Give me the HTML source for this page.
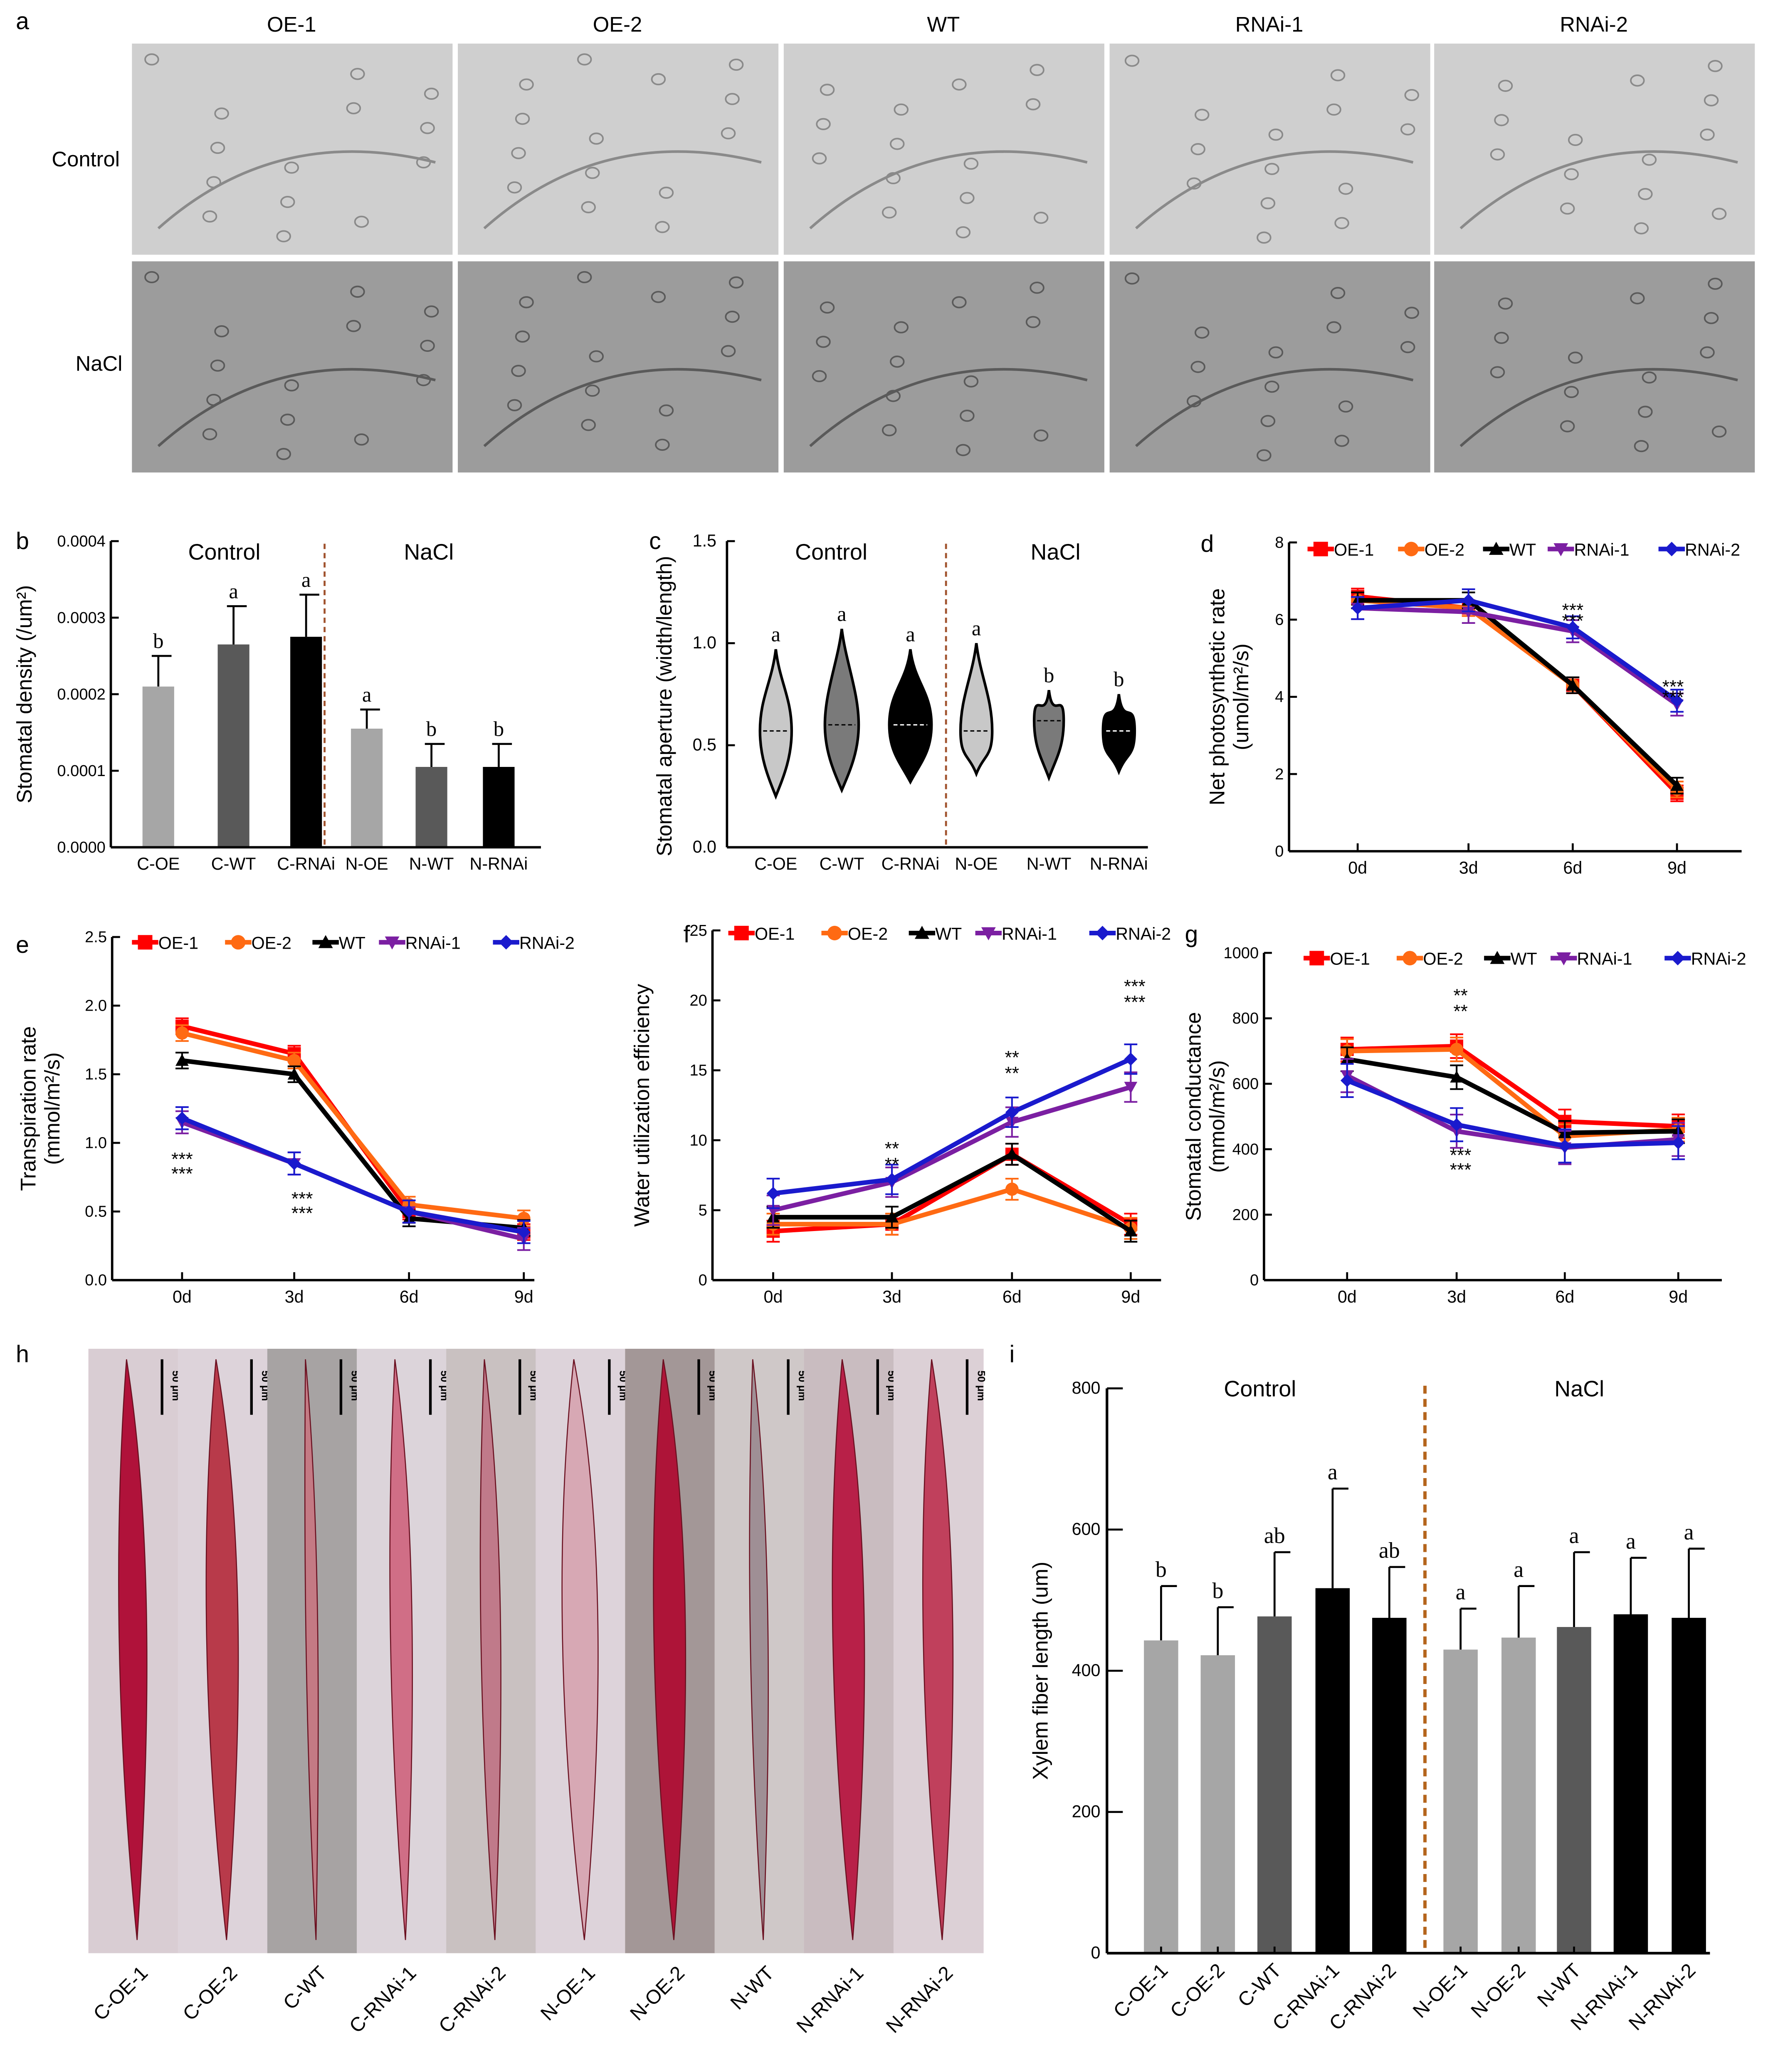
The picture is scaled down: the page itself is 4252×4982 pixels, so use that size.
<!DOCTYPE html>
<html><head><meta charset="utf-8"><title>Stomata and xylem figure</title>
<style>html,body{margin:0;padding:0;background:#fff}svg{display:block;font-family:"Liberation Sans",sans-serif}</style>
</head><body>
<svg id="fig" xmlns="http://www.w3.org/2000/svg" width="4252" height="4982" viewBox="0 0 1340 1570"></svg>
<script>
// ---------- data ----------
const bCats=["C-OE","C-WT","C-RNAi","N-OE","N-WT","N-RNAi"];
const bVals=[0.00021,0.000265,0.000275,0.000155,0.000105,0.000105];
const bErr=[0.00004,0.00005,0.000055,0.000025,0.00003,0.00003];
const bLetters=["b","a","a","a","b","b"];
const bTicks=[0,0.0001,0.0002,0.0003,0.0004];
const bTickLabels=["0.0000","0.0001","0.0002","0.0003","0.0004"];

const cCats=["C-OE","C-WT","C-RNAi","N-OE","N-WT","N-RNAi"];
const cMin=[0.25,0.28,0.32,0.36,0.34,0.37];
const cMax=[0.97,1.07,0.97,1.0,0.77,0.75];
const cMed=[0.57,0.6,0.6,0.57,0.62,0.57];
const cWid=[0.75,0.8,1.0,0.75,0.7,0.75];
const cLetters=["a","a","a","a","b","b"];
const cTicks=[0,0.5,1.0,1.5];

const days=["0d","3d","6d","9d"];
const seriesNames=["OE-1","OE-2","WT","RNAi-1","RNAi-2"];
const dOE1=[6.6,6.3,4.3,1.5],dOE2=[6.5,6.3,4.3,1.6],dWT=[6.5,6.5,4.3,1.7],dR1=[6.3,6.2,5.7,3.8],dR2=[6.3,6.5,5.8,3.9];
const eOE1=[1.85,1.65,0.5,0.35],eOE2=[1.8,1.6,0.55,0.45],eWT=[1.6,1.5,0.45,0.38],eR1=[1.15,0.85,0.5,0.3],eR2=[1.18,0.85,0.5,0.35];
const fOE1=[3.5,4,9,4],fOE2=[4,4,6.5,3.7],fWT=[4.5,4.5,9,3.5],fR1=[5,7,11.3,13.8],fR2=[6.2,7.2,12,15.8];
const gOE1=[705,715,485,470],gOE2=[700,705,440,460],gWT=[675,620,450,455],gR1=[625,455,405,430],gR2=[610,475,410,420];

const iCats=["C-OE-1","C-OE-2","C-WT","C-RNAi-1","C-RNAi-2","N-OE-1","N-OE-2","N-WT","N-RNAi-1","N-RNAi-2"];
const iVals=[443,422,477,517,475,430,447,462,480,475];
const iErr=[77,68,91,141,72,58,73,106,80,98];
const iLetters=["b","b","ab","a","ab","a","a","a","a","a"];
const iTicks=[0,200,400,600,800];

// ---------- helpers ----------
const NS="http://www.w3.org/2000/svg";
const svg=document.getElementById('fig');
function mk(tag,at,parent){const e=document.createElementNS(NS,tag);for(const k in at)e.setAttribute(k,at[k]);(parent||svg).appendChild(e);return e;}
function tx(x,y,s,size,anchor,parent,extra){const e=mk('text',Object.assign({x:x,y:y,'font-size':size,'text-anchor':anchor||'middle',fill:'#000'},extra||{}),parent);e.textContent=s;return e;}
function grp(){return mk('g',{});}
const GL='#a6a6a6',GD='#595959',GB='#000';

// ---------- panel a ----------
{
const g=grp();


const t=tx(12,22,'a',18,'start',g);


const cols=["OE-1","OE-2","WT","RNAi-1","RNAi-2"];
const xs=[100,347,594,841,1087];
cols.forEach((c,i)=>{
 const h=tx(xs[i]+121,24,c,16,'middle',g);
 
 
 [[33,'#cfcfcf','#8a8a8a'],[198,'#9c9c9c','#5a5a5a']].forEach((r,ri)=>{
  const im=mk('rect',{x:xs[i],y:r[0],width:243,height:160,fill:r[1]},g);
  
  
  for(let k=0;k<14;k++){
   const ex=xs[i]+15+((k*53+i*37)%215), ey=r[0]+12+((k*41+i*19)%138);
   mk('ellipse',{cx:ex,cy:ey,rx:5,ry:4,fill:'none',stroke:r[2],'stroke-width':1.2},g);
  }
  mk('path',{d:`M${xs[i]+20} ${r[0]+140} Q${xs[i]+110} ${r[0]+60} ${xs[i]+230} ${r[0]+90}`,fill:'none',stroke:r[2],'stroke-width':2},g);
 });
});
const rl1=tx(65,126,'Control',16,'middle',g);


const rl2=tx(75,281,'NaCl',16,'middle',g);


}

// ---------- panel b ----------
{
const g=grp();


const x0=84,x1=410,y0=642,y1=410,maxV=0.0004;
const ys=v=>y0-v/maxV*(y0-y1);
const cx=[120,177,232,278,327,378];
const cols=[GL,GD,GB,GL,GD,GB];
const l=tx(12,416,'b',18,'start',g);


bVals.forEach((v,i)=>{
 const top=ys(v+bErr[i]);
 mk('line',{x1:cx[i],y1:ys(v),x2:cx[i],y2:top,stroke:'#000','stroke-width':1.5},g);
 mk('line',{x1:cx[i]-5,y1:top,x2:cx[i]+10,y2:top,stroke:'#000','stroke-width':1.5},g);
 const b=mk('rect',{x:cx[i]-12,y:ys(v),width:24,height:y0-ys(v),fill:cols[i]},g);
 
 
 tx(cx[i],top-6,bLetters[i],16,'middle',g,{'font-family':'Liberation Serif'});
 const xl=tx(cx[i],659,bCats[i],13,'middle',g);
 
 
});
mk('line',{x1:x0,y1:y1,x2:x0,y2:y0,stroke:'#000','stroke-width':1.8},g);
mk('line',{x1:x0,y1:y0,x2:x1,y2:y0,stroke:'#000','stroke-width':1.8},g);
bTicks.forEach((t,i)=>{mk('line',{x1:x0,y1:ys(t),x2:x0+6,y2:ys(t),stroke:'#000','stroke-width':1.5},g);tx(x0-4,ys(t)+4,bTickLabels[i],12,'end',g);});
const yt=tx(0,0,'Stomatal density (/um²)',16,'middle',g,{transform:`translate(24,526) rotate(-90)`});


mk('line',{x1:246,y1:412,x2:246,y2:642,stroke:'#a0522d','stroke-width':1.5,'stroke-dasharray':'4,3'},g);
tx(170,424,'Control',17,'middle',g);tx(325,424,'NaCl',17,'middle',g);
}

// ---------- panel c ----------
{
const g=grp();


const x0=551,x1=870,y0=642,y1=410,maxV=1.5;
const ys=v=>y0-v/maxV*(y0-y1);
const cx=[588,638,690,740,795,848];
const cols=['#c8c8c8','#7a7a7a','#000','#c8c8c8','#7a7a7a','#000'];
const l=tx(492,416,'c',18,'start',g);


cCats.forEach((c,i)=>{
 const lo=ys(cMin[i]),hi=ys(cMax[i]),md=ys(cMed[i]),w=16*cWid[i];
 const d=`M${cx[i]} ${lo} C${cx[i]+w*0.5} ${lo-15} ${cx[i]+w} ${md+20} ${cx[i]+w} ${md} C${cx[i]+w} ${md-25} ${cx[i]+3} ${hi+25} ${cx[i]} ${hi} C${cx[i]-3} ${hi+25} ${cx[i]-w} ${md-25} ${cx[i]-w} ${md} C${cx[i]-w} ${md+20} ${cx[i]-w*0.5} ${lo-15} ${cx[i]} ${lo}Z`;
 const v=mk('path',{d:d,fill:cols[i],stroke:'#000','stroke-width':2},g);
 
 
 mk('line',{x1:cx[i]-w*0.8,y1:md,x2:cx[i]+w*0.8,y2:md,stroke:i%3==2?'#fff':'#000','stroke-dasharray':'3,2'},g);
 tx(cx[i],hi-6,cLetters[i],16,'middle',g,{'font-family':'Liberation Serif'});
 const xl=tx(cx[i],659,c,13,'middle',g);
 
 
});
mk('line',{x1:x0,y1:y1,x2:x0,y2:y0,stroke:'#000','stroke-width':1.8},g);
mk('line',{x1:x0,y1:y0,x2:x1,y2:y0,stroke:'#000','stroke-width':1.8},g);
cTicks.forEach(t=>{mk('line',{x1:x0,y1:ys(t),x2:x0+6,y2:ys(t),stroke:'#000','stroke-width':1.5},g);tx(x0-8,ys(t)+4,t.toFixed(1),13,'end',g);});
const yt=tx(0,0,'Stomatal aperture (width/length)',16,'middle',g,{transform:`translate(509,535) rotate(-90)`});


mk('line',{x1:717,y1:412,x2:717,y2:642,stroke:'#a0522d','stroke-width':1.5,'stroke-dasharray':'4,3'},g);
tx(630,424,'Control',17,'middle',g);tx(800,424,'NaCl',17,'middle',g);
}

// ---------- line charts ----------
const sColors=['#ff0000','#ff6a13','#000000','#7b1fa2','#1a1acd'];
const sMarkers=['sq','ci','tri','itri','dia'];
function marker(type,x,y,c,g,s){
 s=s||5;
 if(type=='sq')return mk('rect',{x:x-s,y:y-s,width:2*s,height:2*s,fill:c},g);
 if(type=='ci')return mk('circle',{cx:x,cy:y,r:s,fill:c},g);
 if(type=='tri')return mk('path',{d:`M${x} ${y-s} L${x+s} ${y+s*0.8} L${x-s} ${y+s*0.8}Z`,fill:c},g);
 if(type=='itri')return mk('path',{d:`M${x} ${y+s} L${x+s} ${y-s*0.8} L${x-s} ${y-s*0.8}Z`,fill:c},g);
 return mk('path',{d:`M${x} ${y-s} L${x+s} ${y} L${x} ${y+s} L${x-s} ${y}Z`,fill:c},g);
}
function lineChart(cfg,series,name){
 const g=grp();
 
 
 const ys=v=>cfg.y0-v/cfg.max*(cfg.y0-cfg.y1);
 const l=tx(cfg.lx,cfg.ly,cfg.label,18,'start',g);
 
 
 mk('line',{x1:cfg.x0,y1:cfg.y1,x2:cfg.x0,y2:cfg.y0,stroke:'#000','stroke-width':1.8},g);
 mk('line',{x1:cfg.x0,y1:cfg.y0,x2:cfg.x1,y2:cfg.y0,stroke:'#000','stroke-width':1.8},g);
 cfg.ticks.forEach(t=>{mk('line',{x1:cfg.x0,y1:ys(t),x2:cfg.x0+6,y2:ys(t),stroke:'#000','stroke-width':1.5},g);tx(cfg.x0-4,ys(t)+4,cfg.fmt(t),12,'end',g);});
 days.forEach((d,i)=>{mk('line',{x1:cfg.xs[i],y1:cfg.y0,x2:cfg.xs[i],y2:cfg.y0-6,stroke:'#000','stroke-width':1.5},g);const xl=tx(cfg.xs[i],cfg.y0+17,d,13,'middle',g);});
 cfg.ytitle.forEach((t,k)=>{const yt=tx(0,0,t,16,'middle',g,{transform:`translate(${cfg.ytx+k*18},${(cfg.y0+cfg.y1)/2}) rotate(-90)`});});
 series.forEach((vals,s)=>{
  const pts=vals.map((v,i)=>cfg.xs[i]+','+ys(v)).join(' ');
  const pl=mk('polyline',{points:pts,fill:'none',stroke:sColors[s],'stroke-width':3.5},g);
  
  
  vals.forEach((v,i)=>{
   const e=cfg.err*(s>2?1.4:1);
   mk('line',{x1:cfg.xs[i],y1:ys(v)-e,x2:cfg.xs[i],y2:ys(v)+e,stroke:sColors[s],'stroke-width':1.3},g);
   mk('line',{x1:cfg.xs[i]-5,y1:ys(v)-e,x2:cfg.xs[i]+5,y2:ys(v)-e,stroke:sColors[s],'stroke-width':1.3},g);
   mk('line',{x1:cfg.xs[i]-5,y1:ys(v)+e,x2:cfg.xs[i]+5,y2:ys(v)+e,stroke:sColors[s],'stroke-width':1.3},g);
   const m=marker(sMarkers[s],cfg.xs[i],ys(v),sColors[s],g);
   
   
  });
 });
 const lw=[0,0.98,1.9,2.6,3.8];
 seriesNames.forEach((n,s)=>{
  const lx=cfg.legx+lw[s]*cfg.legstep;
  const lg=mk('g',{},g);
  
  
  mk('line',{x1:lx,y1:cfg.legy,x2:lx+20,y2:cfg.legy,stroke:sColors[s],'stroke-width':3.5},lg);
  marker(sMarkers[s],lx+10,cfg.legy,sColors[s],lg,5.5);
  tx(lx+20,cfg.legy+5,n,13,'start',lg);
 });
 (cfg.stars||[]).forEach(st=>tx(st[0],st[1],st[2],14,'middle',g));
 return g;
}
lineChart({label:'d',lx:910,ly:418,x0:977,x1:1320,y0:645,y1:411,max:8,ticks:[0,2,4,6,8],fmt:t=>String(t),xs:[1029,1113,1192,1271],ytitle:['Net photosynthetic rate','(umol/m²/s)'],ytx:928,err:6,legx:991,legy:416,legstep:70,
 stars:[[1192,467,'***'],[1192,475,'***'],[1268,525,'***'],[1268,533,'***']]},[dOE1,dOE2,dWT,dR1,dR2],'panel-d-photosynthesis-chart');
lineChart({label:'e',lx:12,ly:722,x0:85,x1:405,y0:970,y1:710,max:2.5,ticks:[0,0.5,1,1.5,2,2.5],fmt:t=>t.toFixed(1),xs:[138,223,310,397],ytitle:['Transpiration rate','(mmol/m²/s)'],ytx:27,err:6,legx:100,legy:714,legstep:72,
 stars:[[138,883,'***'],[138,894,'***'],[229,913,'***'],[229,924,'***']]},[eOE1,eOE2,eWT,eR1,eR2],'panel-e-transpiration-chart');
lineChart({label:'f',lx:518,ly:714,x0:540,x1:880,y0:970,y1:705,max:25,ticks:[0,5,10,15,20,25],fmt:t=>String(t),xs:[586,676,767,857],ytitle:['Water utilization efficiency'],ytx:492,err:8,legx:552,legy:707,legstep:72,
 stars:[[676,875,'**'],[676,887,'**'],[767,806,'**'],[767,818,'**'],[860,752,'***'],[860,764,'***']]},[fOE1,fOE2,fWT,fR1,fR2],'panel-f-water-efficiency-chart');
lineChart({label:'g',lx:898,ly:714,x0:958,x1:1305,y0:970,y1:722,max:1000,ticks:[0,200,400,600,800,1000],fmt:t=>String(t),xs:[1021,1104,1186,1272],ytitle:['Stomatal conductance','(mmol/m²/s)'],ytx:910,err:9,legx:988,legy:726,legstep:72,
 stars:[[1107,759,'**'],[1107,771,'**'],[1107,880,'***'],[1107,891,'***']]},[gOE1,gOE2,gWT,gR1,gR2],'panel-g-conductance-chart');

// ---------- panel h ----------
{
const g=grp();


const l=tx(12,1032,'h',18,'start',g);


const bg=['#d9cdd3','#ddd3da','#a7a3a3','#dcd4da','#c9c1c1','#ddd3da','#a39797','#cfc8c8','#c9bcc0','#dcd0d6'];
const fc=['#b0123a','#b83a4a','#c47a84','#d06e86','#c07a8a','#d7a8b4','#ae1438','#9f8f95','#b82048','#c0405c'];
const labels=["C-OE-1","C-OE-2","C-WT","C-RNAi-1","C-RNAi-2","N-OE-1","N-OE-2","N-WT","N-RNAi-1","N-RNAi-2"];
const w=67.8;
labels.forEach((n,i)=>{
 const x=67+i*w;
 mk('rect',{x:x,y:1022,width:w+0.5,height:458,fill:bg[i]},g);
 const cx=x+w/2, wd=[14,16,6,11,10,18,16,9,16,15][i];
 const f=mk('path',{d:`M${cx-5} 1030 C${cx+wd} 1150 ${cx+wd} 1300 ${cx+3} 1470 C${cx-wd} 1300 ${cx-wd} 1150 ${cx-5} 1030Z`,fill:fc[i],stroke:'#6a1020','stroke-width':0.8},g);
 
 
 mk('line',{x1:x+w-12,y1:1030,x2:x+w-12,y2:1072,stroke:'#000','stroke-width':2},g);
 tx(0,0,'50 μm',8,'middle',g,{transform:`translate(${x+w-4},1050) rotate(90)`,'font-weight':'bold'});
 const xl=tx(0,0,n,15,'end',g,{transform:`translate(${cx+12},1496) rotate(-45)`});
 
 
});
}

// ---------- panel i ----------
{
const g=grp();


const x0=839,x1=1296,y0=1480,y1=1052,maxV=800;
const ys=v=>y0-v/maxV*(y0-y1);
const cx=[880,923,966,1010,1053,1107,1151,1193,1236,1280];
const cols=[GL,GL,GD,GB,GB,GL,GL,GD,GB,GB];
const l=tx(765,1032,'i',18,'start',g);


iVals.forEach((v,i)=>{
 const top=ys(v+iErr[i]);
 mk('line',{x1:cx[i],y1:ys(v),x2:cx[i],y2:top,stroke:'#000','stroke-width':1.5},g);
 mk('line',{x1:cx[i],y1:top,x2:cx[i]+12,y2:top,stroke:'#000','stroke-width':1.5},g);
 const b=mk('rect',{x:cx[i]-13,y:ys(v),width:26,height:y0-ys(v),fill:cols[i]},g);
 
 
 tx(cx[i],top-7,iLetters[i],17,'middle',g,{'font-family':'Liberation Serif'});
 mk('line',{x1:cx[i],y1:y0,x2:cx[i],y2:y0-5,stroke:'#000','stroke-width':1.5},g);
 const xl=tx(0,0,iCats[i],15,'end',g,{transform:`translate(${cx[i]+6},1494) rotate(-45)`});
 
 
});
mk('line',{x1:x0,y1:y1,x2:x0,y2:y0,stroke:'#000','stroke-width':2},g);
mk('line',{x1:x0,y1:y0,x2:x1,y2:y0,stroke:'#000','stroke-width':2},g);
iTicks.forEach(t=>{mk('line',{x1:x0,y1:ys(t),x2:x0+12,y2:ys(t),stroke:'#000','stroke-width':1.5},g);tx(x0-5,ys(t)+4,String(t),13,'end',g);});
const yt=tx(0,0,'Xylem fiber length (um)',16,'middle',g,{transform:`translate(794,1266) rotate(-90)`});


mk('line',{x1:1080,y1:1050,x2:1080,y2:1480,stroke:'#b5651d','stroke-width':2.5,'stroke-dasharray':'6,4'},g);
tx(955,1058,'Control',17,'middle',g);tx(1197,1058,'NaCl',17,'middle',g);
}
</script>
</body></html>
